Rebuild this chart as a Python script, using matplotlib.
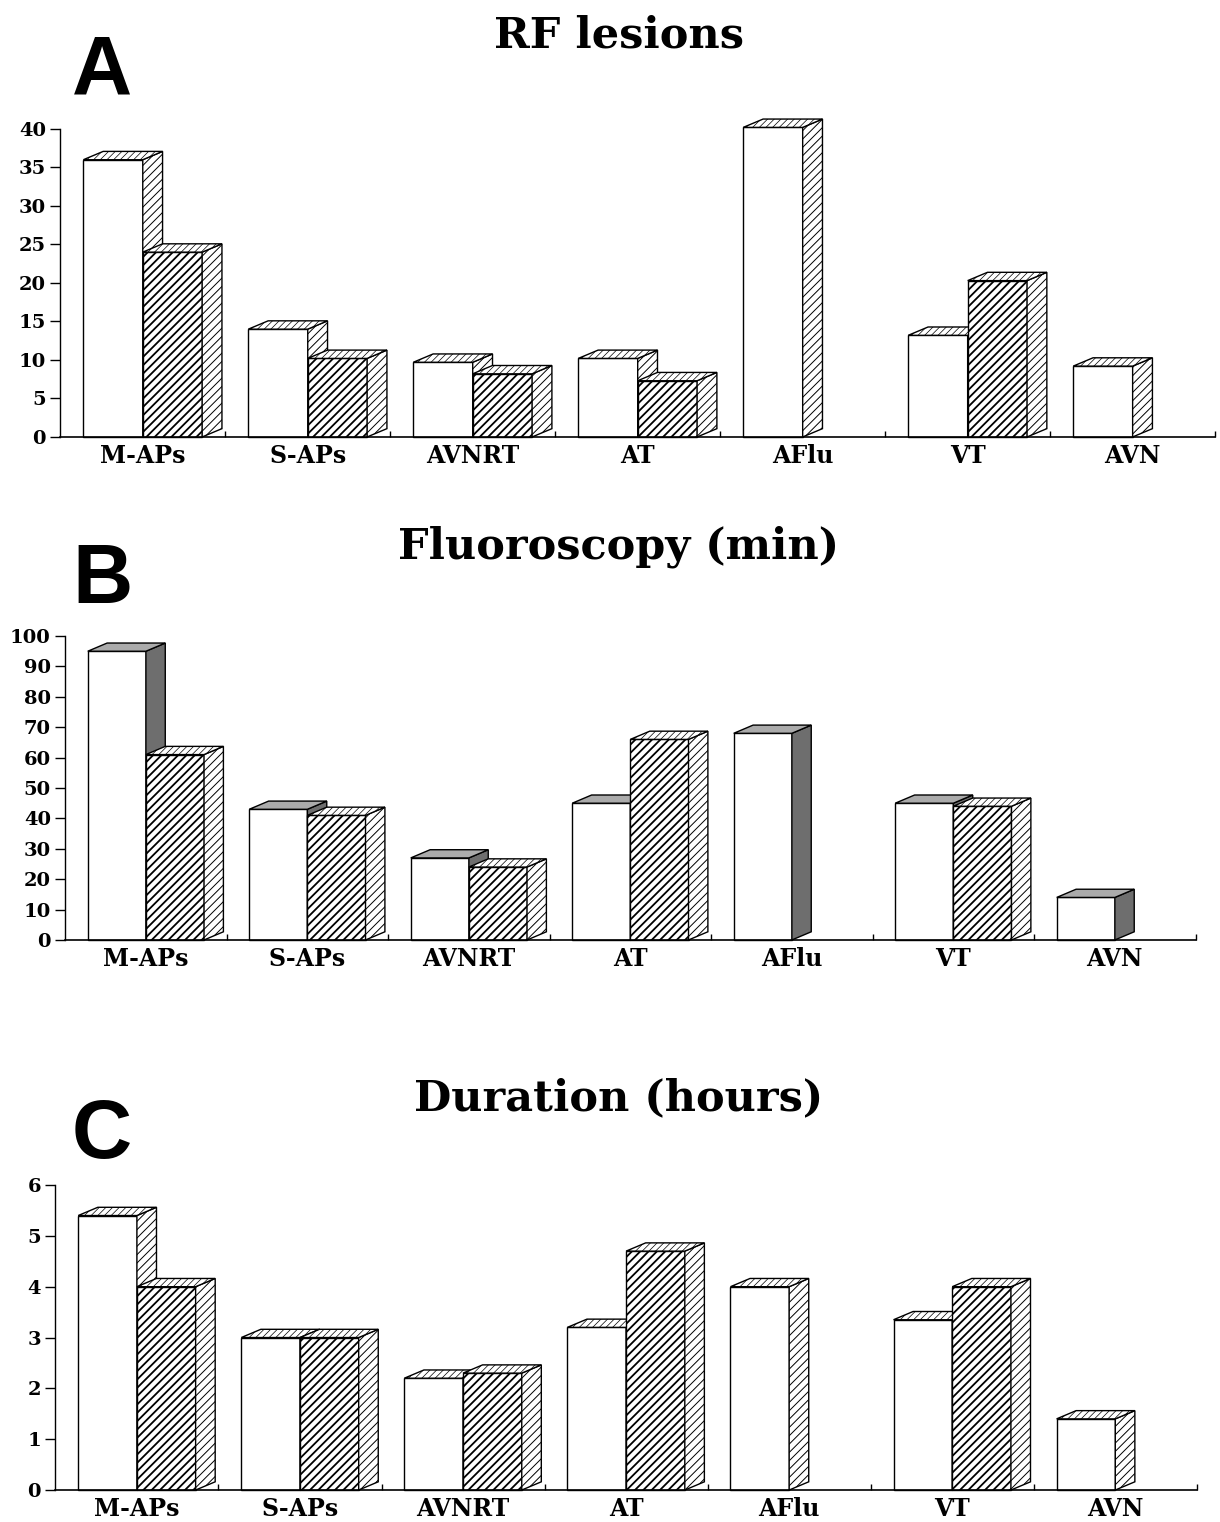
import numpy as np
import matplotlib
matplotlib.use("Agg")
import matplotlib.pyplot as plt
from matplotlib.patches import Polygon

# categories and values
categories = ["M-APs", "S-APs", "AVNRT", "AT", "AFlu", "VT", "AVN"]

rf_white = [36, 14, 9.7, 10.2, 40.2, 13.2, 9.2]
rf_hatched = [24, 10.2, 8.2, 7.3, None, 20.3, None]

fluoro_white = [95, 43, 27, 45, 68, 45, 14]
fluoro_hatched = [61, 41, 24, 66, None, 44, None]

dur_white = [5.4, 3.0, 2.2, 3.2, 4.0, 3.35, 1.4]
dur_hatched = [4.0, 3.0, 2.3, 4.7, None, 4.0, None]

SERIF = "DejaVu Serif"


def set_hlw(p, lw):
    try:
        p.set_hatch_linewidth(lw)
    except AttributeError:
        pass


def box(ax, x0, w, h, dx, dy, front_hatch, side_grey):
    # front face
    rect = ax.bar(x0, h, width=w, align="edge", color="white",
                  edgecolor="black", linewidth=1.0, hatch=front_hatch)[0]
    rect.set_clip_on(False)
    set_hlw(rect, 1.3)
    # side and top faces
    side = Polygon([(x0 + w, 0), (x0 + w + dx, dy), (x0 + w + dx, h + dy), (x0 + w, h)],
                   closed=True, edgecolor="black", linewidth=1.0, clip_on=False)
    top = Polygon([(x0, h), (x0 + dx, h + dy), (x0 + w + dx, h + dy), (x0 + w, h)],
                  closed=True, edgecolor="black", linewidth=1.0, clip_on=False)
    if side_grey:
        side.set_facecolor("#6e6e6e")
        top.set_facecolor("#ababab")
    else:
        side.set_facecolor("white")
        side.set_hatch("////")
        top.set_facecolor("white")
        top.set_hatch("/////")
        set_hlw(side, 0.7)
        set_hlw(top, 0.5)
    ax.add_patch(side)
    ax.add_patch(top)


def panel(rect, white, hatched, ymax, ystep, grey_white_side):
    ax = fig.add_axes(rect)
    x = np.arange(len(categories))
    w = 0.36
    dx = 0.12
    dy = ymax * 0.027
    for i in x:
        box(ax, x[i] - w, w, white[i], dx, dy, None, grey_white_side)
        if hatched[i] is not None:
            box(ax, x[i], w, hatched[i], dx, dy, "////", False)
    ax.set_xlim(-0.503, 6.5)
    ax.set_ylim(0, ymax)
    ax.set_yticks(np.arange(0, ymax + ystep / 2, ystep))
    ax.set_xticks(x)
    ax.set_xticklabels(categories)
    ax.set_xticks(np.arange(0.5, 7, 1), minor=True)
    ax.tick_params(axis="x", which="major", length=0, pad=5)
    ax.tick_params(axis="x", which="minor", direction="in", length=4, width=1)
    ax.tick_params(axis="y", direction="out", length=7, width=1, pad=3)
    for lab in ax.get_xticklabels():
        lab.set_fontfamily(SERIF)
        lab.set_fontweight("bold")
        lab.set_fontsize(17)
    for lab in ax.get_yticklabels():
        lab.set_fontfamily(SERIF)
        lab.set_fontweight("bold")
        lab.set_fontsize(14)
    ax.spines["top"].set_visible(False)
    ax.spines["right"].set_visible(False)
    ax.spines["left"].set_linewidth(1.0)
    ax.spines["bottom"].set_linewidth(1.2)
    ax.set_facecolor("none")
    return ax


fig = plt.figure(figsize=(12.2, 15.22), dpi=100)

panel([0.049, 0.7129, 0.947, 0.2024], rf_white, rf_hatched, 40, 5, False)
panel([0.053, 0.3824, 0.927, 0.1997], fluoro_white, fluoro_hatched, 100, 10, True)
panel([0.045, 0.0210, 0.936, 0.2004], dur_white, dur_hatched, 6, 1, False)

# panel letters and titles
for letter, ly, title, ty in [("A", 1 - 95 / 1522, "RF lesions", 1 - 47 / 1522),
                              ("B", 1 - 603 / 1522, "Fluoroscopy (min)", 1 - 558 / 1522),
                              ("C", 1 - 1158 / 1522, "Duration (hours)", 1 - 1110 / 1522)]:
    fig.text(72 / 1220, ly, letter, fontsize=60, fontweight="bold",
             family="Liberation Sans", va="baseline", ha="left")
    fig.text(0.507, ty, title, fontsize=31, fontweight="bold",
             family=SERIF, va="baseline", ha="center")

fig.savefig("out.png", dpi=100)
